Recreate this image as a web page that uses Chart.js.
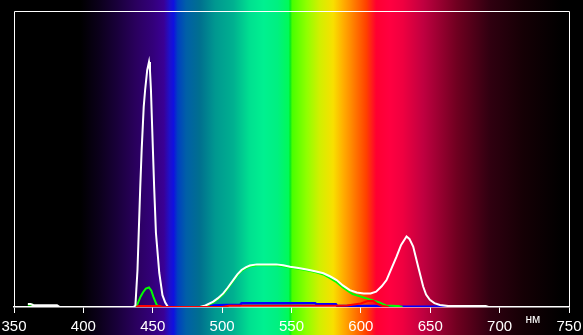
<!DOCTYPE html>
<html>
<head>
<meta charset="utf-8">
<script src="https://cdn.jsdelivr.net/npm/chart.js@4.4.1/dist/chart.umd.min.js"></script>
<style>
  body { margin: 0; background: #000; }
  #chart { display: block; }
</style>
</head>
<body>
<canvas id="chart" width="583" height="335"></canvas>
<script>
// ось X, нм
const tickLabels = ['350', '400', '450', '500', '550', '600', '650', '700', '750'];

// белый (суммарный спектр)
const whiteNm = [360, 362, 364, 381, 383, 436, 437.5, 439, 441, 442, 443.5, 444.5, 446, 447.3, 448,
  448.7, 449.4, 451, 452.3, 454.7, 457, 459, 461, 484, 488, 493.6, 497, 500.8, 504, 508,
  511, 514, 517, 520, 525, 539, 544, 549, 555, 561, 567, 573, 578, 582.5, 587,
  592, 597, 602, 607, 611, 615, 618.5, 622, 625.7, 629, 632.9, 635, 637.7, 641.3, 644.9,
  647, 649.7, 653, 657, 663, 690, 692, 750];
const whiteVal = [1, 1, 0.6, 0.6, 0, 0, 0.5, 12.5, 40.6, 53, 67.7, 73.3, 80, 82.8, 80,
  73.3, 63.2, 40.6, 25, 11.5, 4, 1.5, 0, 0, 0.5, 1.8, 3, 4.6, 6.5, 9.1,
  11, 12.5, 13.4, 14, 14.4, 14.4, 14.1, 13.6, 13.2, 12.7, 12.1, 11.4, 10.3, 9.1, 7.3,
  5.7, 4.9, 4.6, 4.6, 5.2, 7, 9.1, 13, 17, 21, 23.8, 23, 20.4, 13.6, 6.9,
  4.2, 2.4, 1.3, 0.7, 0.3, 0.3, 0, 0];

// зелёный (null = разрыв линии)
const greenNm = [360, 361, 363, 364, 365, 437, 438.4, 441.2, 443, 445, 447.3, 449, 450.4, 452.8, 455, 484,
  488, 493.6, 497, 500.8, 504, 508, 511, 514, 517, 520, 525, 539, 544, 549, 555,
  561, 567, 573, 578, 582.5, 587, 594, 604, 613.7, 618, 627, 630];
const greenVal = [0.8, 0.8, 0.8, 0.8, null, 0, 0.3, 3.5, 5, 6.2, 6.6, 5.5, 3.5, 0.7, 0, 0,
  0.3, 1.5, 2.7, 4.3, 6.2, 8.8, 10.7, 12.2, 13.1, 13.7, 14.1, 14.1, 13.8, 13.3, 12.9,
  12.4, 11.8, 11, 9.7, 8.4, 6.6, 4.4, 2.9, 1.5, 0.5, 0.3, 0];

// синий
const blueNm = [484, 490, 493, 503, 513, 514, 567, 568, 582, 583, 614, 615, 662, 663];
const blueVal = [0, 0, 0.5, 0.7, 0.7, 1.25, 1.25, 0.9, 0.9, 0.35, 0.35, 0.1, 0.1, 0];

// красный
const redNm = [438, 440, 455, 457, 500, 505, 585, 590, 600, 605, 609, 612, 616, 620];
const redVal = [0, 0.3, 0.3, 0, 0, 0.4, 0.4, 0.5, 1.2, 2.0, 2.0, 1.0, 0.3, 0];

function pts(xs, ys) {
  return xs.map((x, i) => ({ x: x, y: ys[i] }));
}

// цвета радуги под графиком
const rainbow = [
  [350, '#000000'], [398, '#000000'], [412, '#0c001c'], [425, '#1a003c'], [438, '#2a005e'],
  [450, '#33007a'], [458, '#3a0095'], [462, '#2010c8'], [465, '#1010e0'], [468, '#0040c0'],
  [474, '#005fa8'], [484, '#00708f'], [495, '#009890'], [508, '#00b090'], [520, '#00e090'],
  [530, '#00f090'], [540, '#00f080'], [548, '#00fa58'], [549, '#00ec20'], [550.5, '#48ff00'],
  [561, '#90ff00'], [570, '#d0f000'], [580, '#f8e000'], [587, '#ffb000'], [592, '#ff9000'],
  [604, '#ff4000'], [611, '#ff0030'], [621, '#ff0040'], [630, '#f00040'], [645, '#c00040'],
  [669, '#700020'], [693, '#300010'], [717, '#150005'], [745, '#000000'], [750, '#000000']
];

const spectrumBg = {
  id: 'spectrumBg',
  beforeDraw(chart) {
    const ctx = chart.ctx;
    const x = chart.scales.x;
    const x0 = x.getPixelForValue(350);
    const x1 = x.getPixelForValue(750);
    ctx.save();
    ctx.fillStyle = '#000';
    ctx.fillRect(0, 0, chart.width, chart.height);
    const g = ctx.createLinearGradient(x0, 0, x1, 0);
    rainbow.forEach(s => g.addColorStop((s[0] - 350) / 400, s[1]));
    ctx.fillStyle = g;
    ctx.fillRect(0, 0, chart.width, chart.height);
    ctx.restore();
  }
};

const frame = {
  id: 'frame',
  afterDraw(chart) {
    const ctx = chart.ctx;
    const a = chart.chartArea;
    ctx.save();
    ctx.strokeStyle = '#fff';
    ctx.lineWidth = 1;
    ctx.beginPath();
    ctx.moveTo(a.left + 0.5, a.bottom);
    ctx.lineTo(a.left + 0.5, a.top + 0.5);
    ctx.lineTo(a.right + 0.5, a.top + 0.5);
    ctx.lineTo(a.right + 0.5, a.bottom);
    ctx.stroke();
    // подпись единиц
    ctx.fillStyle = '#fff';
    ctx.font = '12px "Liberation Sans", Arial, sans-serif';
    ctx.textAlign = 'center';
    ctx.textBaseline = 'middle';
    ctx.fillText('нм', chart.scales.x.getPixelForValue(724), 320);
    ctx.restore();
  }
};

new Chart(document.getElementById('chart'), {
  type: 'line',
  data: {
    datasets: [
      { data: pts(redNm, redVal), borderColor: '#ff0000', borderWidth: 2 },
      { data: pts(whiteNm, whiteVal), borderColor: '#ffffff', borderWidth: 2 },
      { data: pts(greenNm, greenVal), borderColor: '#00ff00', borderWidth: 2, spanGaps: false },
      { data: pts(blueNm, blueVal), borderColor: '#0000ff', borderWidth: 2.5 }
    ]
  },
  options: {
    responsive: false,
    devicePixelRatio: 1,
    animation: false,
    layout: { padding: { left: 14, right: 14, top: 11, bottom: 0 } },
    elements: { point: { radius: 0 }, line: { tension: 0 } },
    plugins: { legend: { display: false }, tooltip: { enabled: false } },
    scales: {
      x: {
        type: 'linear',
        min: 350,
        max: 750,
        afterBuildTicks(scale) {
          scale.ticks = tickLabels.map(t => ({ value: Number(t) }));
        },
        afterFit(scale) {
          scale.height = 28;
          scale.paddingLeft = 0;
          scale.paddingRight = 0;
        },
        border: { color: '#ffffff', width: 1.5 },
        grid: { drawOnChartArea: false, drawTicks: true, tickLength: 6, color: '#ffffff' },
        ticks: {
          color: '#ffffff',
          padding: 5,
          maxRotation: 0,
          autoSkip: false,
          font: { family: '"Liberation Sans Narrow", "Arial Narrow", Arial, sans-serif', size: 15 },
          callback: (v) => String(v)
        }
      },
      y: { display: false, min: 0, max: 100 }
    }
  },
  plugins: [spectrumBg, frame]
});
</script>
</body>
</html>
